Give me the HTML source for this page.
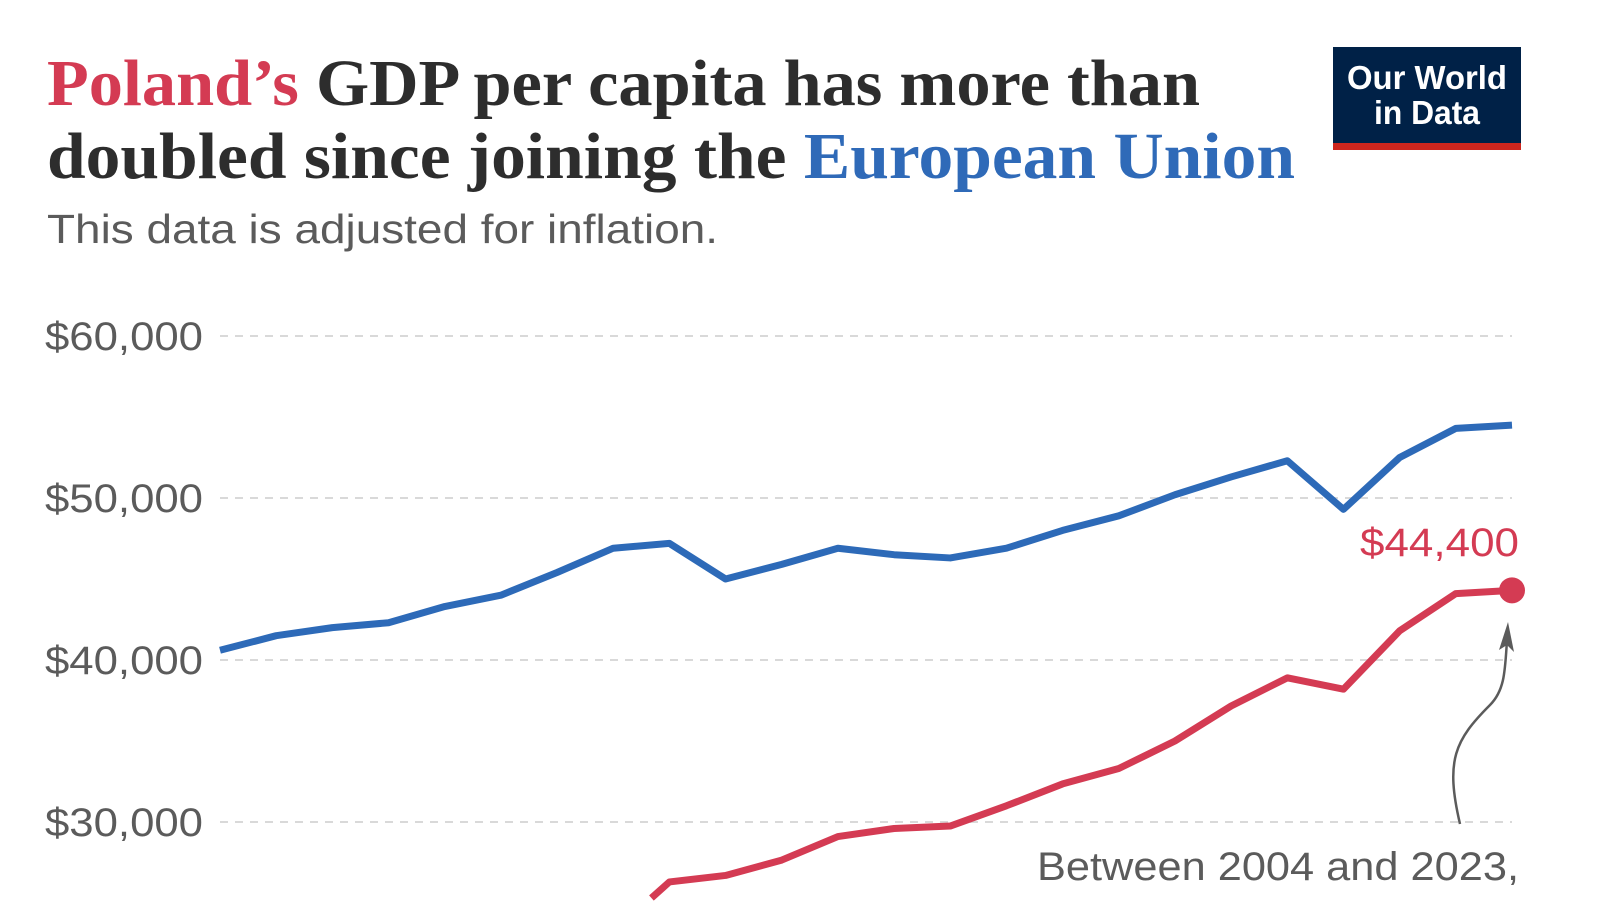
<!DOCTYPE html>
<html><head><meta charset="utf-8">
<style>
html,body{margin:0;padding:0;background:#fff;width:1600px;height:901px;overflow:hidden;position:relative;}
svg{position:absolute;left:0;top:0;display:block;overflow:hidden}
</style></head>
<body>
<svg width="1600" height="901" viewBox="0 0 1600 901">
<text x="47" y="105" textLength="1153" lengthAdjust="spacingAndGlyphs" font-family="Liberation Serif, serif" font-weight="bold" font-size="66" fill="#2d2d2d"><tspan fill="#d43b53">Poland’s</tspan> GDP per capita has more than</text>
<text x="47" y="178" textLength="1248" lengthAdjust="spacingAndGlyphs" font-family="Liberation Serif, serif" font-weight="bold" font-size="66" fill="#2d2d2d">doubled since joining the <tspan fill="#2f6ab8">European Union</tspan></text>
<text x="47" y="243" textLength="671" lengthAdjust="spacingAndGlyphs" font-family="Liberation Sans, sans-serif" font-size="41" fill="#5b5b5b">This data is adjusted for inflation.</text>
<g>
<rect x="1333" y="47" width="188" height="97" fill="#002147"/>
<rect x="1333" y="143" width="188" height="7" fill="#ce261e"/>
<text x="1427" y="89" text-anchor="middle" textLength="160" lengthAdjust="spacingAndGlyphs" font-family="Liberation Sans, sans-serif" font-weight="bold" font-size="33" fill="#fff">Our World</text>
<text x="1427" y="124" text-anchor="middle" textLength="106" lengthAdjust="spacingAndGlyphs" font-family="Liberation Sans, sans-serif" font-weight="bold" font-size="33" fill="#fff">in Data</text>
</g>
<g id="grid"></g>
<g id="lines"></g>
<text x="1519" y="556" text-anchor="end" textLength="159" lengthAdjust="spacingAndGlyphs" font-family="Liberation Sans, sans-serif" font-size="40" fill="#d43b53">$44,400</text>
<path d="M1460 824 C1445 760,1455 740,1490 705 C1505 690,1505 670,1507 640" fill="none" stroke="#5b5b5b" stroke-width="2.5"/>
<path d="M1499 650 L1508 622 L1514 652 L1507 645 Z" fill="#5b5b5b"/>
<text x="1519" y="880" text-anchor="end" textLength="482" lengthAdjust="spacingAndGlyphs" font-family="Liberation Sans, sans-serif" font-size="40" fill="#5b5b5b">Between 2004 and 2023,</text>
</svg>
<script>
const years=[2000,2001,2002,2003,2004,2005,2006,2007,2008,2009,2010,2011,2012,2013,2014,2015,2016,2017,2018,2019,2020,2021,2022,2023];
const euValues=[40600,41500,42000,42300,43300,44000,45400,46900,47200,45000,45900,46900,46500,46300,46900,48000,48900,50200,51300,52300,49300,52500,54300,54500];
const polandValues=[17500,17700,18000,18700,19600,20400,21700,23200,26300,26700,27650,29100,29600,29750,31000,32350,33300,35000,37160,38900,38200,41800,44100,44300];
const yTicks=[30000,40000,50000,60000];
const yTickLabels=["$30,000","$40,000","$50,000","$60,000"];
const NS="http://www.w3.org/2000/svg";
const BOTTOM=898;
const x=y=>220+(y-2000)*(1512-220)/23;
const yS=v=>336+(60000-v)/10000*162;
const grid=document.getElementById('grid');
yTicks.forEach((t,i)=>{
  const l=document.createElementNS(NS,'line');
  l.setAttribute('x1',220);l.setAttribute('x2',1512);
  l.setAttribute('y1',yS(t));l.setAttribute('y2',yS(t));
  l.setAttribute('stroke','#d9d9d9');l.setAttribute('stroke-width','2');l.setAttribute('stroke-dasharray','8,7');
  
  
  grid.appendChild(l);
  const tx=document.createElementNS(NS,'text');
  tx.setAttribute('x',203);tx.setAttribute('y',yS(t)+14);tx.setAttribute('text-anchor','end');
  tx.setAttribute('textLength','158');tx.setAttribute('lengthAdjust','spacingAndGlyphs');
  tx.setAttribute('font-family','Liberation Sans, sans-serif');tx.setAttribute('font-size','40');tx.setAttribute('fill','#5b5b5b');
  tx.textContent=yTickLabels[i];
  
  
  grid.appendChild(tx);
});
const lines=document.getElementById('lines');
function visiblePoints(vals){
  const pts=vals.map((v,i)=>[x(years[i]),yS(v)]);
  const out=[];
  for(let i=0;i<pts.length;i++){
    const [px,py]=pts[i];
    if(py<=BOTTOM){
      if(i>0&&pts[i-1][1]>BOTTOM){
        const [qx,qy]=pts[i-1];
        const t=(qy-BOTTOM)/(qy-py);
        out.push([qx+(px-qx)*t,BOTTOM]);
      }
      out.push([px,py]);
    }
  }
  return out;
}
function draw(vals,color,name){
  const p=document.createElementNS(NS,'polyline');
  p.setAttribute('points',visiblePoints(vals).map(q=>q[0]+','+q[1]).join(' '));
  p.setAttribute('fill','none');p.setAttribute('stroke',color);p.setAttribute('stroke-width','7');p.setAttribute('stroke-linejoin','round');
  
  
  lines.appendChild(p);
}
draw(euValues,'#2d6ab8','eu-line');
draw(polandValues,'#d43b53','poland-line');
const c=document.createElementNS(NS,'circle');
c.setAttribute('cx',x(years[years.length-1]));c.setAttribute('cy',yS(polandValues[polandValues.length-1]));c.setAttribute('r','13');c.setAttribute('fill','#d43b53');


lines.appendChild(c);
</script>
</body></html>
